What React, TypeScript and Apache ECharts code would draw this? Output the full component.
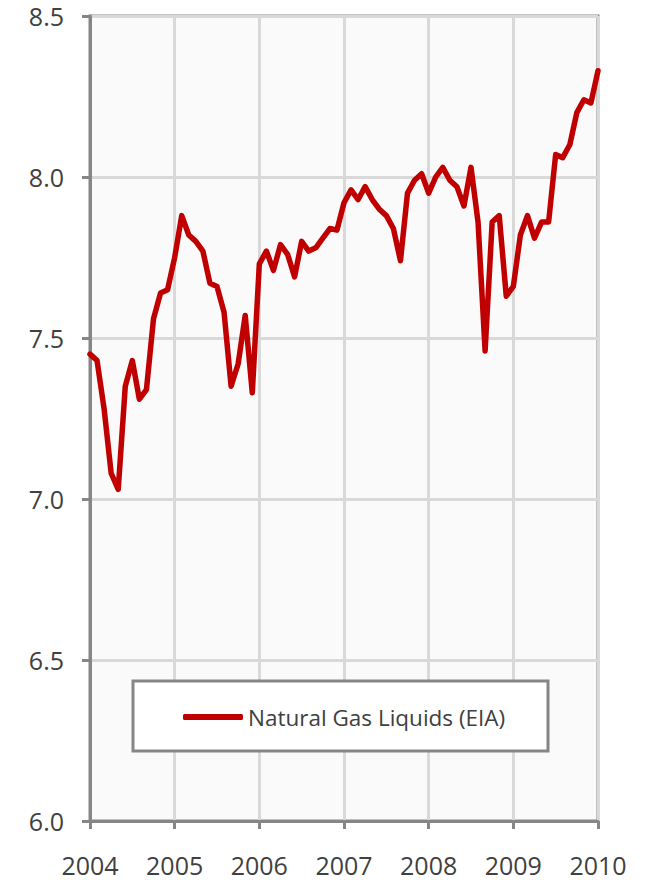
import React, { useEffect, useRef } from "react";
import * as echarts from "echarts";

// Monthly Natural Gas Liquids production (million b/d), Jan 2004 – Jan 2010
const startYear = 2004;
const seriesName = "Natural Gas Liquids (EIA)";
const nglValues: number[] = [
  // 2004
  7.45, 7.43, 7.28, 7.08, 7.03, 7.35, 7.43, 7.31, 7.34, 7.56, 7.64, 7.65,
  // 2005
  7.75, 7.88, 7.82, 7.80, 7.77, 7.67, 7.66, 7.58, 7.35, 7.42, 7.57, 7.33,
  // 2006
  7.73, 7.77, 7.71, 7.79, 7.76, 7.69, 7.80, 7.77, 7.78, 7.81, 7.84, 7.835,
  // 2007
  7.92, 7.96, 7.93, 7.97, 7.93, 7.90, 7.88, 7.84, 7.74, 7.95, 7.99, 8.01,
  // 2008
  7.95, 8.00, 8.03, 7.99, 7.97, 7.91, 8.03, 7.86, 7.46, 7.86, 7.88, 7.63,
  // 2009
  7.66, 7.82, 7.88, 7.81, 7.86, 7.86, 8.07, 8.06, 8.10, 8.20, 8.24, 8.23,
  // 2010
  8.33,
];
const xMin = 2004;
const xMax = 2010;
const yMin = 6.0;
const yMax = 8.5;
const yStep = 0.5;

const FONT = "'Open Sans', 'DejaVu Sans', sans-serif";
const AXIS_GREY = "#868686";
const GRID_GREY = "#d9d9d9";
const TEXT = "#404040";
const RED = "#c00000";

export default function App() {
  const ref = useRef<HTMLDivElement>(null);

  useEffect(() => {
    if (!ref.current) return;
    const chart = echarts.init(ref.current, undefined, { renderer: "svg" });
    const data = nglValues.map((v, i) => [startYear + i / 12, v]);

    chart.setOption({
      animation: false,
      backgroundColor: "#ffffff",
      grid: {
        left: 90,
        right: 51,
        top: 16,
        bottom: 59,
        show: true,
        backgroundColor: "#fafafa",
        borderColor: AXIS_GREY,
        borderWidth: 3,
      },
      xAxis: {
        type: "value",
        min: xMin,
        max: xMax,
        interval: 1,
        axisLine: { show: true, lineStyle: { color: AXIS_GREY, width: 3 } },
        axisTick: { show: true, length: 8, lineStyle: { color: AXIS_GREY, width: 3 } },
        axisLabel: {
          margin: 31,
          fontSize: 25,
          color: TEXT,
          fontFamily: FONT,
          formatter: (v: number) => String(Math.round(v)),
        },
        splitLine: { show: true, lineStyle: { color: GRID_GREY, width: 3 } },
      },
      yAxis: {
        type: "value",
        min: yMin,
        max: yMax,
        interval: yStep,
        axisLine: { show: true, lineStyle: { color: AXIS_GREY, width: 3 } },
        axisTick: { show: true, length: 8, lineStyle: { color: AXIS_GREY, width: 3 } },
        axisLabel: {
          margin: 26,
          fontSize: 25,
          color: TEXT,
          fontFamily: FONT,
          formatter: (v: number) => v.toFixed(1),
        },
        splitLine: { show: true, lineStyle: { color: GRID_GREY, width: 3 } },
      },
      legend: {
        show: true,
        left: 183,
        top: 704,
        padding: 0,
        itemWidth: 60,
        itemHeight: 6,
        itemGap: 10,
        icon: "roundRect",
        textStyle: { fontSize: 22.5, color: TEXT, fontFamily: FONT, lineHeight: 26 },
        data: [{ name: seriesName, itemStyle: { color: RED } }],
        z: 10,
      },
      graphic: [
        {
          type: "rect",
          z: 5,
          shape: { x: 133, y: 681, width: 415, height: 70 },
          style: { fill: "#ffffff", stroke: AXIS_GREY, lineWidth: 3 },
        },
      ],
      series: [
        {
          name: seriesName,
          type: "line",
          data,
          showSymbol: false,
          symbol: "none",
          color: RED,
          lineStyle: { color: RED, width: 5.5, cap: "round", join: "round" },
          z: 3,
        },
      ],
    });
    return () => chart.dispose();
  }, []);

  return (
    <div
      ref={ref}
      style={{ position: "absolute", left: 0, top: 0, width: 649, height: 880 }}
    />
  );
}
